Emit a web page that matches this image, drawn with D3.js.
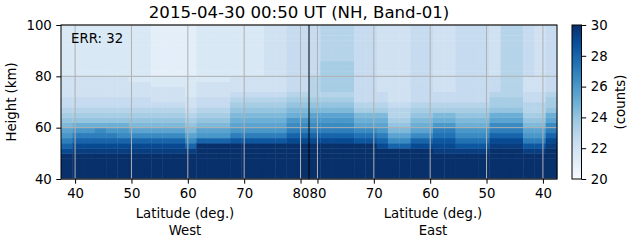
<!DOCTYPE html>
<html>
<head>
<meta charset="utf-8">
<script src="https://cdn.jsdelivr.net/npm/d3@7"></script>
<style>
body { margin: 0; background: #fff; }
text { font-family: "DejaVu Sans", sans-serif; fill: #000; }
</style>
</head>
<body>
<div id="chart"></div>
<script>
// bin bottoms (km), 2 km each
let heights = [40, 42, 44, 46, 48, 50, 52, 54, 56, 58, 60, 62, 64, 66, 68,
    70, 72, 74, 76, 78, 80, 82, 84, 86, 88, 90, 92, 94, 96, 98]
// column centres (deg), 2 deg wide
let westLat = [38.5, 40.5, 42.5, 44.5, 46.5, 48.5, 50.5, 52.5, 54.5, 56.5, 58.5,
    60.5, 62.5, 64.5, 66.5, 68.5, 70.5, 72.5, 74.5, 76.5, 78.5, 80.5]
let eastLat = [80.5, 78.5, 76.5, 74.5, 72.5, 70.5, 68.5, 66.5, 64.5, 62.5, 60.5,
    58.5, 56.5, 54.5, 52.5, 50.5, 48.5, 46.5, 44.5, 42.5, 40.5, 38.5]
// one string per column, bottom -> top; a = 20 counts, each letter +0.5, u = 30
let westCounts = [
    "uuuuusqomljihgffeeeedddddddddd",
    "uuuuutsqomkihgffeeeedddddddddd",
    "uuuuutsqomkihgffeeeedddddddddd",
    "uuuuutsqonkihgffeeeedddddddddd",
    "uuuuutsqomkihgffeeeedddddddddd",
    "uuuuutsqnmkihgffeeeedddddddddd",
    "uuuuutsqnljihgffeeeddddddddddd",
    "uuuuutsqnljihgffeeeddddddddddd",
    "uuuuutsqnljihgfeeeddcccccccccc",
    "uuuuutsqnljihgfeeeddcccccccccc",
    "uuuuutsqnljihgfeeeddcccccccccc",
    "uuuuutqnljihgfeeddddcccccccccc",
    "uuuuuuuqmljihgffeeeddddddddddd",
    "uuuuuuuqmljihgffeeeddddddddddd",
    "uuuuuuuqmljihgffeeeddddddddddd",
    "uuuuuuuromlkjihgfeeedddddddddd",
    "uuuuuuuromlkjihgfeeedddddddddd",
    "uuuuuuuromlkjihgfeeedddddddddd",
    "uuuuuuuromlkjihgfeeeeeeeeeeeee",
    "uuuuuuuromlkjihgfeeeeeeeeeeeee",
    "uuuuuuusqonmkjihgfffffffffffff",
    "uuuuuuusqonmkjihgfffffffffffff"
]
let eastCounts = [
    "uuuuuuusqonmljihggggffffffffff",
    "uuuuuuusqonmljihghhhhhhggggggg",
    "uuuuuuusqonmljihghhhhhhggggggg",
    "uuuuuuusqonmljihghhhhhhggggggg",
    "uuuuuuurpnlkjhgfffffffffffffff",
    "uuuuuuurpnlkjhgfffffffffffffff",
    "uuuuuusqomlkjhgffeeeeeeeeeeeee",
    "uuuuuuqnljihggfeeeeeeeeeeeeeee",
    "uuuuuuqnljihggfeeeeeeeeeeeeeee",
    "uuuuuusqnlkjihgfffffffffffffff",
    "uuuuuusqnlkjihgfffffffffffffff",
    "uuuuutsrpomkjhgffeeeeeeeeeeeee",
    "uuuuutsrpomkjhgffeeeeeeeeeeeee",
    "uuuuutrpnmkjihgfffffffffffffff",
    "uuuuutrpnmkjihgfffffffffffffff",
    "uuuuutrpnmkjihgfffffffffffffff",
    "uuuuuutsqonlkihhgfffeeeeeeeeee",
    "uuuuuutsqonlkihhgggggggggggggg",
    "uuuuuutsqonlkihhgggggggggggggg",
    "uuuuutromljihggffeeeffffffffff",
    "uuuuutromljihggffeeeeeeeeeeeee",
    "uuuuuutsqonlkihhgfffffffffffff"
]
let xTicks = [40, 50, 60, 70, 80]
let yTicks = [40, 60, 80, 100]
let cTicks = [20, 22, 24, 26, 28, 30]
let blues = ["#f7fbff", "#deebf7", "#c6dbef", "#9ecae1", "#6baed6",
    "#4292c6", "#2171b5", "#08519c", "#08306b"]

let W = 631, H = 243
let box = { left: 61, right: 557, top: 25, bottom: 179 }
let mid = (box.left + box.right) / 2

let svg = d3.select("#chart").append("svg")
    .attr("width", W).attr("height", H)

let xWest = d3.scaleLinear().domain([37.5, 81.5]).range([box.left, mid])
let xEast = d3.scaleLinear().domain([81.5, 37.5]).range([mid, box.right])
let y = d3.scaleLinear().domain([40, 100]).range([box.bottom, box.top])
let color = d3.scaleLinear()
    .domain(blues.map((c, i) => 20 + i * 10 / (blues.length - 1)))
    .range(blues)
    .interpolate(d3.interpolateRgb)
    .clamp(true)
let level = ch => 20 + (ch.charCodeAt(0) - 97) * 0.5

// flatten to cells
let cells = []
westLat.forEach((lat, i) => {
    westCounts[i].split("").forEach((ch, j) => {
        cells.push({ x0: xWest(lat - 1), x1: xWest(lat + 1), h: heights[j], v: level(ch) })
    })
})
eastLat.forEach((lat, i) => {
    eastCounts[i].split("").forEach((ch, j) => {
        cells.push({ x0: xEast(lat + 1), x1: xEast(lat - 1), h: heights[j], v: level(ch) })
    })
})

svg.append("g")
    .selectAll("rect")
    .data(cells)
    .join("rect")
    .attr("x", d => d.x0)
    .attr("y", d => y(d.h + 2))
    .attr("width", d => d.x1 - d.x0 + 0.4)
    .attr("height", d => y(d.h) - y(d.h + 2) + 0.4)
    .attr("fill", d => color(d.v))

// grid
let grid = svg.append("g").attr("stroke", "#b0b0b0").attr("stroke-width", 1)
xTicks.forEach(t => {
    [xWest(t), xEast(t)].forEach(px => {
        grid.append("line")
            .attr("x1", px).attr("x2", px)
            .attr("y1", box.top).attr("y2", box.bottom)
    })
})
yTicks.forEach(t => {
    grid.append("line")
        .attr("x1", box.left).attr("x2", box.right)
        .attr("y1", y(t)).attr("y2", y(t))
})

// divider between west and east
svg.append("line")
    .attr("x1", mid).attr("x2", mid)
    .attr("y1", box.top).attr("y2", box.bottom)
    .attr("stroke", "#000").attr("stroke-width", 1)

svg.append("rect")
    .attr("x", box.left).attr("y", box.top)
    .attr("width", box.right - box.left).attr("height", box.bottom - box.top)
    .attr("fill", "none").attr("stroke", "#000").attr("stroke-width", 1)

// axes
let styleAxis = g => {
    g.select(".domain").remove()
    g.selectAll(".tick line").attr("stroke", "#000")
    g.selectAll(".tick text").attr("font-size", "13.3px")
        .style("font-family", "DejaVu Sans")
}
svg.append("g")
    .attr("transform", "translate(0," + box.bottom + ")")
    .call(d3.axisBottom(xWest).tickValues(xTicks).tickSize(4.7).tickPadding(4.5))
    .call(styleAxis)
svg.append("g")
    .attr("transform", "translate(0," + box.bottom + ")")
    .call(d3.axisBottom(xEast).tickValues(xTicks).tickSize(4.7).tickPadding(4.5))
    .call(styleAxis)
svg.append("g")
    .attr("transform", "translate(" + box.left + ",0)")
    .call(d3.axisLeft(y).tickValues(yTicks).tickSize(4.7).tickPadding(4.5))
    .call(styleAxis)

// labels
svg.append("text")
    .attr("x", 299).attr("y", 18)
    .attr("text-anchor", "middle").attr("font-size", "16.6px")
    .text("2015-04-30 00:50 UT (NH, Band-01)")
svg.append("text")
    .attr("x", 71).attr("y", 43)
    .attr("font-size", "13.3px")
    .text("ERR: 32")
let xl = [[(box.left + mid) / 2, "West"], [(mid + box.right) / 2, "East"]]
xl.forEach(([cx, side]) => {
    svg.append("text").attr("x", cx).attr("y", 218)
        .attr("text-anchor", "middle").attr("font-size", "13.3px")
        .text("Latitude (deg.)")
    svg.append("text").attr("x", cx).attr("y", 235)
        .attr("text-anchor", "middle").attr("font-size", "13.3px")
        .text(side)
})
svg.append("text")
    .attr("transform", "translate(16," + (box.top + box.bottom) / 2 + ") rotate(-90)")
    .attr("text-anchor", "middle").attr("font-size", "13.3px")
    .text("Height (km)")

// colorbar
let cb = { x: 572, w: 9.5 }
let cy = d3.scaleLinear().domain([20, 30]).range([box.bottom, box.top])
let grad = svg.append("defs").append("linearGradient")
    .attr("id", "cbar").attr("x1", 0).attr("x2", 0).attr("y1", 1).attr("y2", 0)
grad.selectAll("stop")
    .data(blues)
    .join("stop")
    .attr("offset", (d, i) => i / (blues.length - 1))
    .attr("stop-color", d => d)
svg.append("rect")
    .attr("x", cb.x).attr("y", box.top)
    .attr("width", cb.w).attr("height", box.bottom - box.top)
    .attr("fill", "url(#cbar)").attr("stroke", "#000").attr("stroke-width", 1)
svg.append("g")
    .attr("transform", "translate(" + (cb.x + cb.w) + ",0)")
    .call(d3.axisRight(cy).tickValues(cTicks).tickSize(4.7).tickPadding(4.5))
    .call(styleAxis)
svg.append("text")
    .attr("transform", "translate(625," + (box.top + box.bottom) / 2 + ") rotate(-90)")
    .attr("text-anchor", "middle").attr("font-size", "13.3px")
    .text("(counts)")
</script>
</body>
</html>
